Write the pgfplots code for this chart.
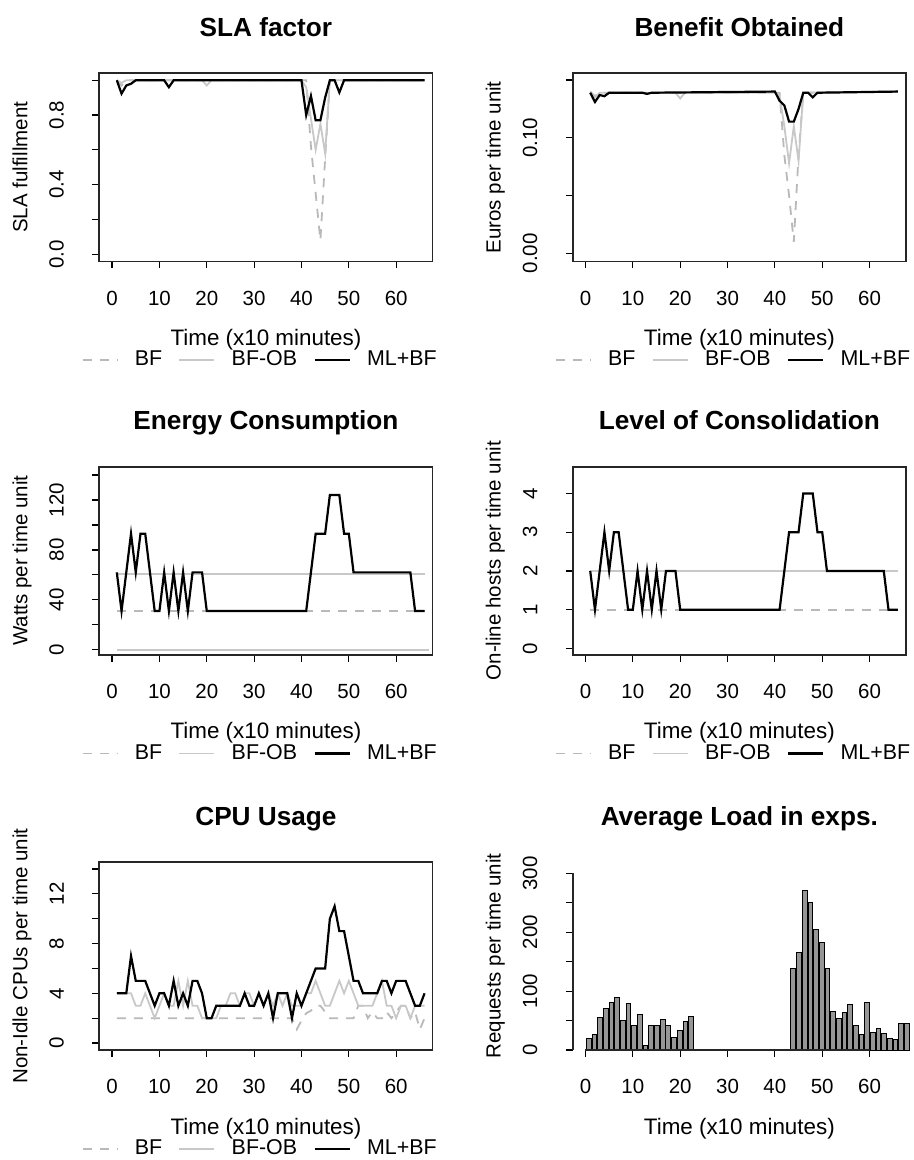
\documentclass[border=0pt]{standalone}
\usepackage{pgfplots}
\pgfplotsset{compat=1.18}
\usepackage{fontspec}
\setmainfont{Liberation Sans}
\definecolor{lgd}{RGB}{185,185,185}
\definecolor{lgs}{RGB}{200,200,200}
\definecolor{barfill}{RGB}{150,150,150}
\newcommand{\basefont}{\fontsize{10.25}{12}\selectfont}
\newcommand{\xlabfont}{\fontsize{11.2}{13}\selectfont}
\pgfplotsset{
  rpanel/.style={
    scale only axis, width=166.65pt, height=94pt,
    xmin=-2.7, xmax=67.7,
    xtick={0,10,20,30,40,50,60},
    xticklabels={0,10,20,30,40,50,60},
    tick align=outside,
    tick pos=left,
    major tick length=3.5pt,
    minor tick num=0,
    tick style={black, line width=0.6pt},
    axis line style={black!85, line width=0.8pt},
    /pgf/number format/assume math mode=true,
    ticklabel style={font=\basefont, inner sep=0pt},
    xticklabel style={anchor=north},
    yticklabel style={rotate=90, anchor=south},
    xticklabel shift=11pt,
    yticklabel shift=14pt,
    every axis title shift=0pt,
    title style={at={(0.5,1.196)}, anchor=base, font=\bfseries\fontsize{13.1}{15}\selectfont},
    xlabel={Time (x10 minutes)},
    xlabel style={at={(0.5,-0.447)}, anchor=base, font=\xlabfont},
    ylabel style={at={(-0.216,0.5)}, anchor=base, font=\basefont},
    legend style={at={(1.0135,-0.525)}, anchor=east, draw=none, fill=none,
      inner sep=0pt, nodes={inner sep=0pt},
      legend columns=3, font=\fontsize{10.7}{12}\selectfont,
      /tikz/every odd column/.append style={column sep=8.2pt},
      /tikz/every even column/.append style={column sep=8.2pt}},
    legend image code/.code={\draw[#1] (0pt,0pt) -- (17.5pt,0pt);},
  },
  bfst/.style={color=lgd, dash pattern=on 4.5pt off 4pt, line width=0.9pt},
  bfobst/.style={color=lgs, line width=0.9pt},
  mlst/.style={black, line width=1.1pt},
}
\begin{document}
\begin{tikzpicture}
\path[use as bounding box] (0,0) rectangle (457pt,-580pt);

% ---------- SLA factor ----------
\begin{axis}[rpanel, at={(49.65pt,-36.65pt)}, anchor=north west,
  title={SLA factor}, ylabel={SLA fulfillment},
  ymin=-0.04, ymax=1.04,
  ytick={0,0.2,0.4,0.6,0.8,1.0}, yticklabels={0.0,,0.4,,0.8,}]
\addplot[bfst] coordinates {(1,1)(2,0.97)(3,1)(41,1)(42,0.62)(43,0.35)(44,0.08)(45,0.55)(46,1)(66,1)};
\addlegendentry{BF}
\addplot[bfobst] coordinates {(1,1)(2,0.985)(3,1)(19,1)(20,0.97)(21,1)(40,1)(41,0.96)(42,0.78)(43,0.6)(44,0.75)(45,0.58)(46,1)(66,1)};
\addlegendentry{BF-OB}
\addplot[mlst] coordinates {(1,1)(2,0.923)(3,0.97)(4,0.98)(5,1)(11,1)(12,0.96)(13,1)(40,1)(41,0.8)(42,0.91)(43,0.77)(44,0.77)(45,0.9)(46,1)(47,1)(48,0.93)(49,1)(66,1)};
\addlegendentry{ML+BF}
\end{axis}

% ---------- Benefit ----------
\begin{axis}[rpanel, at={(286.35pt,-36.65pt)}, anchor=north west,
  title={Benefit Obtained}, ylabel={Euros per time unit},
  ymin=-0.0068, ymax=0.1558,
  ytick={0,0.05,0.10,0.15}, yticklabels={0.00,,0.10,}]
\addplot[bfst] coordinates {(1,0.14)(2,0.136)(3,0.139)(41,0.139)(42,0.085)(43,0.05)(44,0.01)(45,0.085)(46,0.139)(66,0.14)};
\addlegendentry{BF}
\addplot[bfobst] coordinates {(1,0.139)(2,0.135)(3,0.139)(19,0.139)(20,0.134)(21,0.139)(40,0.139)(41,0.136)(42,0.11)(43,0.078)(44,0.11)(45,0.08)(46,0.139)(66,0.14)};
\addlegendentry{BF-OB}
\addplot[mlst] coordinates {(1,0.139)(2,0.131)(3,0.137)(4,0.136)(5,0.139)(12,0.139)(13,0.138)(14,0.139)(40,0.14)(41,0.132)(42,0.128)(43,0.114)(44,0.114)(45,0.125)(46,0.139)(47,0.139)(48,0.135)(49,0.139)(66,0.14)};
\addlegendentry{ML+BF}
\end{axis}

% ---------- Energy ----------
\begin{axis}[rpanel, at={(49.65pt,-233.35pt)}, anchor=north west,
  title={Energy Consumption}, ylabel={Watts per time unit},
  ymin=-4, ymax=146.7,
  ytick={0,20,40,60,80,100,120,140}, yticklabels={0,,40,,80,,120,}]
\addplot[bfst] coordinates {(1,31)(66,31)};
\addlegendentry{BF}
\addplot[bfobst] coordinates {(1,61)(66,61)};
\addlegendentry{BF-OB}
\addplot[mlst] coordinates {(1,62)(2,31)(4,93)(5,62)(6,93)(7,93)(9,31)(10,31)(11,62)(12,31)(13,62)(14,31)(15,62)(16,31)(17,62)(19,62)(20,31)(41,31)(43,93)(45,93)(46,124)(48,124)(49,93)(50,93)(51,62)(63,62)(64,31)(66,31)};
\addlegendentry{ML+BF}
\addplot[bfobst, forget plot] coordinates {(1,0)(67,0)};
\end{axis}

% ---------- Consolidation ----------
\begin{axis}[rpanel, at={(286.35pt,-233.35pt)}, anchor=north west,
  title={Level of Consolidation}, ylabel={On-line hosts per time unit},
  ymin=-0.163, ymax=4.69,
  ytick={0,1,2,3,4}, yticklabels={0,1,2,3,4}]
\addplot[bfst] coordinates {(1,1)(66,1)};
\addlegendentry{BF}
\addplot[bfobst] coordinates {(1,2)(66,2)};
\addlegendentry{BF-OB}
\addplot[mlst] coordinates {(1,2)(2,1)(4,3)(5,2)(6,3)(7,3)(9,1)(10,1)(11,2)(12,1)(13,2)(14,1)(15,2)(16,1)(17,2)(19,2)(20,1)(41,1)(43,3)(45,3)(46,4)(48,4)(49,3)(50,3)(51,2)(63,2)(64,1)(66,1)};
\addlegendentry{ML+BF}
\end{axis}

% ---------- CPU Usage ----------
\begin{axis}[rpanel, at={(49.65pt,-431pt)}, anchor=north west,
  title={CPU Usage}, ylabel={Non-Idle CPUs per time unit},
  ymin=-0.56, ymax=14.56,
  ytick={0,2,4,6,8,10,12,14}, yticklabels={0,,4,,8,,12,}]
\addplot[bfst] coordinates {(1,2)(38,2)(39,1.1)(40,1.8)(41,2.4)(42,2.6)(43,3)(44,3)(45,2.5)(46,2)(51,2)(52,3)(53,3)(54,2)(55,2.5)(56,2)(57,2)(58,2.5)(59,2)(60,2.5)(61,3)(62,3)(63,2)(64,2.5)(65,1.1)(66,2)};
\addlegendentry{BF}
\addplot[bfobst] coordinates {(1,4)(2,4)(3,4)(4,4)(5,3)(6,3)(7,4)(8,3)(9,2)(10,3)(11,4)(12,3)(13,3)(14,5)(15,3)(16,5)(17,3)(18,3)(19,2)(20,2)(21,2)(22,2)(23,3)(24,3)(25,4)(26,4)(27,3)(28,4)(29,4)(30,3)(31,4)(32,3)(33,4)(34,3)(35,4)(36,3)(37,4)(38,3)(39,3)(40,3)(41,4)(42,4)(43,5)(44,4)(45,3)(46,3)(47,4)(48,5)(49,4)(50,5)(51,4)(52,3)(53,3)(54,3)(55,3)(56,4)(57,5)(58,3)(59,3)(60,2)(61,3)(62,3)(63,2)(64,3)(65,3)(66,3)};
\addlegendentry{BF-OB}
\addplot[mlst] coordinates {(1,4)(2,4)(3,4)(4,7)(5,5)(6,5)(7,5)(8,4)(9,3)(10,4)(11,4)(12,3)(13,5)(14,3)(15,4)(16,3)(17,5)(18,5)(19,4)(20,2)(21,2)(22,3)(23,3)(24,3)(25,3)(26,3)(27,3)(28,4)(29,3)(30,3)(31,4)(32,3)(33,4)(34,2)(35,4)(36,4)(37,4)(38,2)(39,4)(40,3)(41,4)(42,5)(43,6)(44,6)(45,6)(46,10)(47,11)(48,9)(49,9)(50,7)(51,5)(52,5)(53,4)(54,4)(55,4)(56,4)(57,5)(58,5)(59,4)(60,5)(61,5)(62,5)(63,4)(64,3)(65,3)(66,4)};
\addlegendentry{ML+BF}
\end{axis}

% ---------- Average Load ----------
\begin{axis}[rpanel, at={(286.35pt,-431pt)}, anchor=north west,
  title={Average Load in exps.}, ylabel={Requests per time unit},
  ymin=0, ymax=319.2, clip=false,
  axis x line*=bottom, axis y line*=left,
  axis line style={draw=none},
  ytick={0,50,100,150,200,250,300}, yticklabels={0,,100,,200,,300}]
\addplot[ybar, bar width=1, bar shift=0pt, fill=barfill, draw=black, line width=0.5pt] coordinates {
(0.7,20)(1.9,26)(3.1,55)(4.3,70)(5.5,81)(6.7,89)(7.9,50)(9.1,79)(10.3,42)(11.5,61)
(12.7,8)(13.9,41)(15.1,41)(16.3,51)(17.5,41)(18.7,22)(19.9,33)(21.1,49)(22.3,57)
(23.5,0)(24.7,0)(25.9,0)(27.1,0)(28.3,0)(29.5,0)(30.7,0)(31.9,0)(33.1,0)(34.3,0)
(35.5,0)(36.7,0)(37.9,0)(39.1,0)(40.3,0)(41.5,0)(42.7,0)
(43.9,138)(45.1,165)(46.3,270)(47.5,250)(48.7,205)(49.9,182)(51.1,138)(52.3,65)
(53.5,53)(54.7,63)(55.9,77)(57.1,41)(58.3,26)(59.5,80)(60.7,29)(61.9,37)(63.1,28)
(64.3,20)(65.5,17)(66.7,45)(67.9,45)};
\draw[black!85, line width=0.8pt] (axis cs:0,0) -- (axis cs:60,0);
\draw[black!85, line width=0.8pt] (axis cs:-2.7,0) -- (axis cs:-2.7,300);
\end{axis}
\end{tikzpicture}
\end{document}
